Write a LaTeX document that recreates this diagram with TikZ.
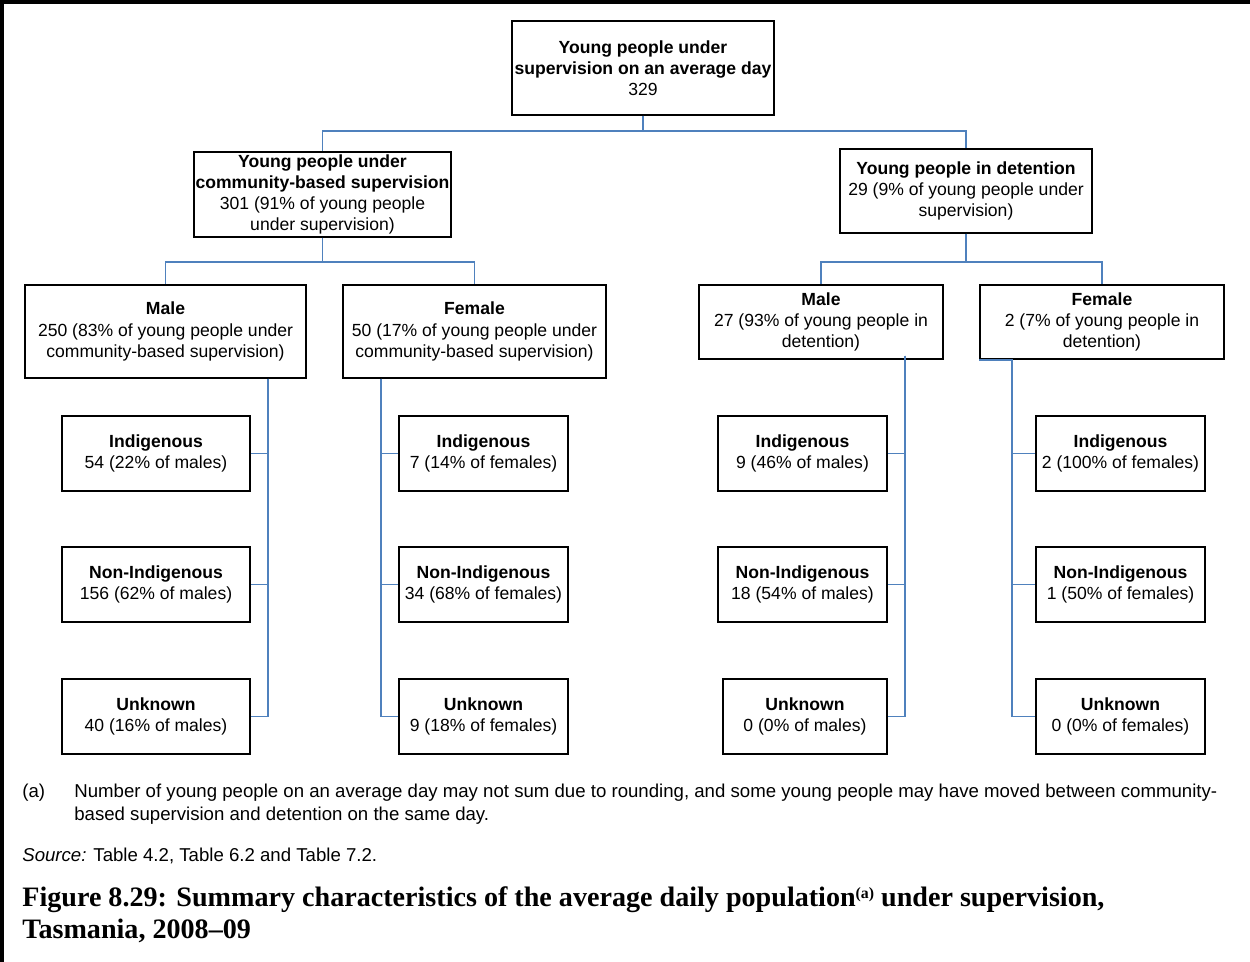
\documentclass[tikz,border=0pt]{standalone}
\usepackage{fontspec}
\setmainfont{Liberation Sans}
\newfontfamily\titlefont{Liberation Serif}
\usepackage{xcolor}
\usepackage{tikz}
\usetikzlibrary{positioning, calc}

\definecolor{linkblue}{RGB}{79,129,189}

\begin{document}
\begin{tikzpicture}[
    x=0.02cm, y=-0.02cm,
    box/.style={rectangle, draw=black, line width=0.8pt, align=center, inner sep=0pt, font=\fontsize{10}{12}\selectfont},
    leaf/.style={box, minimum width=3.38cm, minimum height=1.5cm},
    link/.style={draw=linkblue, line width=1pt},
    note/.style={anchor=base west, inner sep=0pt, align=left, font=\fontsize{10.6}{13}\selectfont}
]
\useasboundingbox (0,0) rectangle (1250,962);
\draw[line width=3pt] (1.5,962) -- (1.5,1.5) -- (1250,1.5);

% top levels
\node[box, minimum width=5.24cm, minimum height=1.88cm] (root) at (643,68) {\textbf{Young people under}\\\textbf{supervision on an average day}\\329};
\node[box, minimum width=5.14cm, minimum height=1.7cm] (community) at (322.5,194.5) {\textbf{Young people under}\\\textbf{community-based supervision}\\301 (91\% of young people\\under supervision)};
\node[box, minimum width=5.04cm, minimum height=1.68cm] (detention) at (966,191) {\textbf{Young people in detention}\\29 (9\% of young people under\\supervision)};

\node[box, minimum width=5.62cm, minimum height=1.86cm] (cmale) at (165.5,331.5) {\textbf{Male}\\250 (83\% of young people under\\community-based supervision)};
\node[box, minimum width=5.26cm, minimum height=1.86cm] (cfemale) at (474.5,331.5) {\textbf{Female}\\50 (17\% of young people under\\community-based supervision)};
\node[box, minimum width=4.88cm, minimum height=1.48cm] (dmale) at (821,322) {\textbf{Male}\\27 (93\% of young people in\\detention)};
\node[box, minimum width=4.88cm, minimum height=1.48cm] (dfemale) at (1102,322) {\textbf{Female}\\2 (7\% of young people in\\detention)};

% leaves
\node[leaf, minimum width=3.76cm] (cmind) at (156,453.5) {\textbf{Indigenous}\\54 (22\% of males)};
\node[leaf, minimum width=3.76cm] (cmnon) at (156,584.5) {\textbf{Non-Indigenous}\\156 (62\% of males)};
\node[leaf, minimum width=3.76cm] (cmunk) at (156,716.5) {\textbf{Unknown}\\40 (16\% of males)};

\node[leaf] (cfind) at (483.5,453.5) {\textbf{Indigenous}\\7 (14\% of females)};
\node[leaf] (cfnon) at (483.5,584.5) {\textbf{Non-Indigenous}\\34 (68\% of females)};
\node[leaf] (cfunk) at (483.5,716.5) {\textbf{Unknown}\\9 (18\% of females)};

\node[leaf] (dmind) at (802.5,453.5) {\textbf{Indigenous}\\9 (46\% of males)};
\node[leaf] (dmnon) at (802.5,584.5) {\textbf{Non-Indigenous}\\18 (54\% of males)};
\node[leaf, minimum width=3.28cm] (dmunk) at (805,716.5) {\textbf{Unknown}\\0 (0\% of males)};

\node[leaf] (dfind) at (1120.5,453.5) {\textbf{Indigenous}\\2 (100\% of females)};
\node[leaf] (dfnon) at (1120.5,584.5) {\textbf{Non-Indigenous}\\1 (50\% of females)};
\node[leaf] (dfunk) at (1120.5,716.5) {\textbf{Unknown}\\0 (0\% of females)};

% connectors
\draw[link] (root.south) -- ++(0,15) -| (community.north);
\draw[link] (root.south) -- ++(0,15) -| (detention.north);
\draw[link] (community.south) -- ++(0,24) -| (cmale.north);
\draw[link] (community.south) -- ++(0,24) -| (cfemale.north);
\draw[link] (detention.south) -- ++(0,28) -| (dmale.north);
\draw[link] (detention.south) -- ++(0,28) -| (dfemale.north);

\draw[link] (cmale.south) ++(102.5,0) |- (cmind.east);
\draw[link] (cmale.south) ++(102.5,0) |- (cmnon.east);
\draw[link] (cmale.south) ++(102.5,0) |- (cmunk.east);

\draw[link] (cfemale.south) ++(-93.5,0) |- (cfind.west);
\draw[link] (cfemale.south) ++(-93.5,0) |- (cfnon.west);
\draw[link] (cfemale.south) ++(-93.5,0) |- (cfunk.west);

\draw[link] (dmale.south) ++(84,-4) |- (dmind.east);
\draw[link] (dmale.south) ++(84,-4) |- (dmnon.east);
\draw[link] (dmale.south) ++(84,-4) |- (dmunk.east);

\draw[link] (dfemale.south west) -- ++(33,0) |- (dfind.west);
\draw[link] (dfemale.south west) ++(33,0) |- (dfnon.west);
\draw[link] (dfemale.south west) ++(33,0) |- (dfunk.west);

% notes and caption
\node[note] (notea) at (22,797) {(a)};
\node[note] (notetext) at (74,820) {Number of young people on an average day may not sum due to rounding, and some young people may have moved between community-\\based supervision and detention on the same day.};
\node[note] (source) at (22,861) {\textit{Source:} Table 4.2, Table 6.2 and Table 7.2.};
\node[note, font=\titlefont\bfseries\fontsize{16}{18.2}\selectfont] (caption) at (22,938) {Figure 8.29: Summary characteristics of the average daily population\raisebox{0.6ex}{\fontsize{9}{9}\selectfont(a)} under supervision,\\Tasmania, 2008\textendash 09};
\end{tikzpicture}
\end{document}
